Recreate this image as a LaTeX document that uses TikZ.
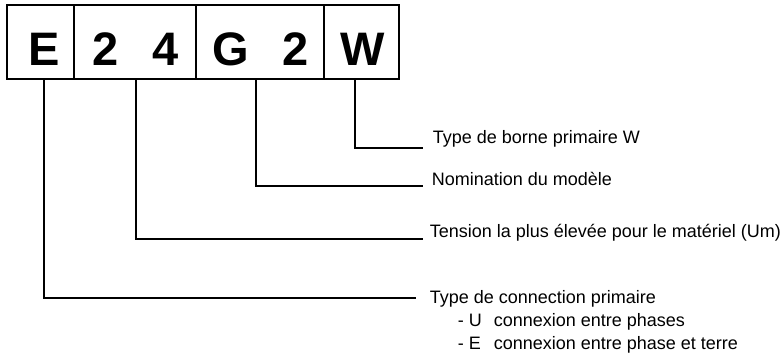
\documentclass[tikz,border=0pt]{standalone}
\usepackage{fontspec}
\setmainfont{Liberation Sans}
\usetikzlibrary{positioning}

\begin{document}
\begin{tikzpicture}[x=1pt, y=-1pt, line width=1.6pt,
  lettre/.style={anchor=base, inner sep=0pt, font=\fontsize{47}{47}\selectfont\bfseries},
  legende/.style={anchor=base west, inner sep=0pt, font=\fontsize{18}{22}\selectfont}]
\useasboundingbox (0,0) rectangle (783,356);
% cadre du code
\draw(7,5) rectangle (399,79);
\draw(74,5)--(74,79);\draw(196,5)--(196,79);\draw(324,5)--(324,79);
\node[lettre] (lE) at (44.5,65) {E};
\node[lettre] (l2a) at (106,65) {2};\node[lettre] (l4) at (166,65) {4};
\node[lettre] (lG) at (231,65) {G};\node[lettre] (l2b) at (296,65) {2};
\node[lettre] (lW) at (363,65) {W};

\coordinate (pE) at (44,79);\coordinate (p24) at (136,79);
\coordinate (pG2) at (256,79);\coordinate (pW) at (355,79);

% legendes
\node[legende] (tW) at (432,143) {Type de borne primaire W};
\node[legende] (tNom) at (431,185) {Nomination du modèle};
\node[legende] (tUm) at (429,237) {Tension la plus élevée pour le matériel (Um)};
\node[legende] (tCon) at (429,303) {Type de connection primaire};
\node[legende] (tU) at (457,326) {- U};\node[legende] (tUtxt) at (493,326) {connexion entre phases};
\node[legende] (tE) at (457,349) {- E};\node[legende] (tEtxt) at (493,349) {connexion entre phase et terre};

\draw(pW) |- ([xshift=-9pt,yshift=-5pt]tW.base west);
\draw(pG2) |- ([xshift=-8pt,yshift=-1pt]tNom.base west);
\draw(p24) |- ([xshift=-6pt,yshift=-2pt]tUm.base west);
\draw(pE) |- ([xshift=-13pt,yshift=5pt]tCon.base west);
\end{tikzpicture}
\end{document}
